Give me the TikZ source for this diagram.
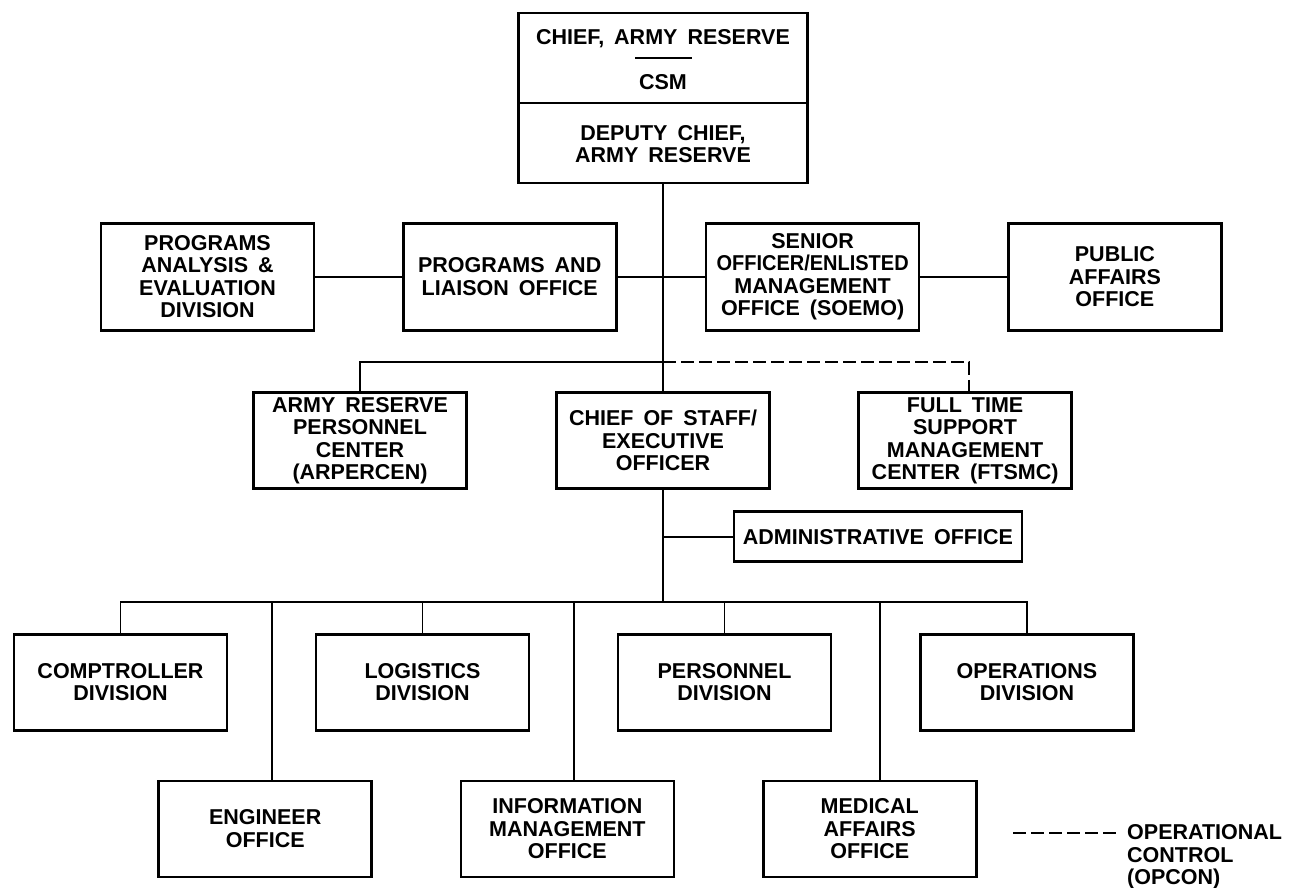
\documentclass[tikz,border=0pt]{standalone}
\usepackage{fontspec}
\setmainfont{Liberation Sans}
\usetikzlibrary{calc}
\newcommand\orgfont{\fontsize{21.5}{22.5}\selectfont\bfseries\spaceskip=10pt plus 2pt minus 1pt}
\newcommand\narrowline[1]{\scalebox{0.93}[1]{#1}}
\begin{document}
\begin{tikzpicture}[x=1pt,y=-1pt,
  box/.style={draw,line width=2.6pt,align=center,inner sep=1pt,font=\orgfont,
              minimum width=213pt,minimum height=96pt},
  boxtall/.style={box,minimum height=107pt},
  label/.style={font=\orgfont,inner sep=0pt},
  conn/.style={line width=2pt},
  busline/.style={line width=1.5pt},
  opcon/.style={line width=2pt,dash pattern=on 13pt off 5pt}]
\fill[white] (0,0) rectangle (1294,888);
\useasboundingbox (0,0) rectangle (1294,888);

% top box
\node[draw,line width=2.6pt,minimum width=289pt,minimum height=170pt,inner sep=0pt] (chief) at (663,98) {};
\node[label,anchor=base] (t1) at (663,45) {CHIEF, ARMY RESERVE};
\node[label,anchor=base] (t2) at (663,90) {CSM};
\node[label,anchor=base] (t3) at (663,141) {DEPUTY CHIEF,};
\node[label,anchor=base] (t4) at (663,163) {ARMY RESERVE};
\draw[line width=2pt] (chief.west |- 0,103) -- (chief.east |- 0,103);
\draw[line width=1.6pt] (635,58) -- (692,58);

% second row
\node[boxtall] (paed) at (207.5,276.7) {PROGRAMS\\ANALYSIS \&\\EVALUATION\\DIVISION};
\node[boxtall] (plo) at (509.7,276.7) {PROGRAMS AND\\LIAISON OFFICE};
\node[boxtall] (soemo) at (812.6,276.7) {SENIOR\\\narrowline{OFFICER/ENLISTED}\\MANAGEMENT\\OFFICE (SOEMO)};
\node[boxtall] (pao) at (1114.9,276.7) {PUBLIC\\AFFAIRS\\OFFICE};

% third row
\node[box] (arpercen) at (360,440.7) {ARMY RESERVE\\PERSONNEL\\CENTER\\(ARPERCEN)};
\node[box] (cos) at (663,440.7) {CHIEF OF STAFF/\\EXECUTIVE\\OFFICER};
\node[box] (ftsmc) at (965.1,440.7) {FULL TIME\\SUPPORT\\MANAGEMENT\\CENTER (FTSMC)};
\node[box,minimum width=288pt,minimum height=50pt] (admin) at (877.9,536.7) {ADMINISTRATIVE OFFICE};

% bottom rows
\node[box] (comptroller) at (120.5,682.3) {COMPTROLLER\\DIVISION};
\node[box] (logistics) at (422.5,682.3) {LOGISTICS\\DIVISION};
\node[box] (personnel) at (724.5,682.3) {PERSONNEL\\DIVISION};
\node[box] (operations) at (1027,682.3) {OPERATIONS\\DIVISION};
\node[box] (engineer) at (265.2,828.8) {ENGINEER\\OFFICE};
\node[box] (im) at (567.4,828.8) {INFORMATION\\MANAGEMENT\\OFFICE};
\node[box] (medical) at (869.7,828.8) {MEDICAL\\AFFAIRS\\OFFICE};

% junctions
\coordinate (j1) at (663,362);
\coordinate (bus) at (663,602);

% connectors
\draw[conn] (chief.south) -- (cos.north);
\draw[conn] (paed.east) -- (plo.west);
\draw[conn] (plo.east) -- (soemo.west);
\draw[conn] (soemo.east) -- (pao.west);
\draw[conn] (arpercen.north) |- (j1);
\draw[opcon] (j1) -| ([xshift=4pt]ftsmc.north);
\draw[conn] (cos.south) -- (bus);
\draw[conn] (admin.west) -- (admin.west -| cos.south);

\draw[busline] (comptroller.north) |- (bus) -| (operations.north);
\draw[busline] (logistics.north) -- (logistics.north |- bus);
\draw[busline] (personnel.north) -- (personnel.north |- bus);
\draw[conn] ([xshift=7pt]engineer.north) -- ([xshift=7pt]engineer.north |- bus);
\draw[conn] ([xshift=7pt]im.north) -- ([xshift=7pt]im.north |- bus);
\draw[conn] ([xshift=10pt]medical.north) -- ([xshift=10pt]medical.north |- bus);

% legend
\coordinate (lg1) at (1013,833);
\coordinate (lg2) at (1117,833);
\draw[opcon] (lg1) -- (lg2);
\node[label,align=left,anchor=west] (legend) at (1127,857) {OPERATIONAL\\CONTROL\\(OPCON)};
\end{tikzpicture}
\end{document}
